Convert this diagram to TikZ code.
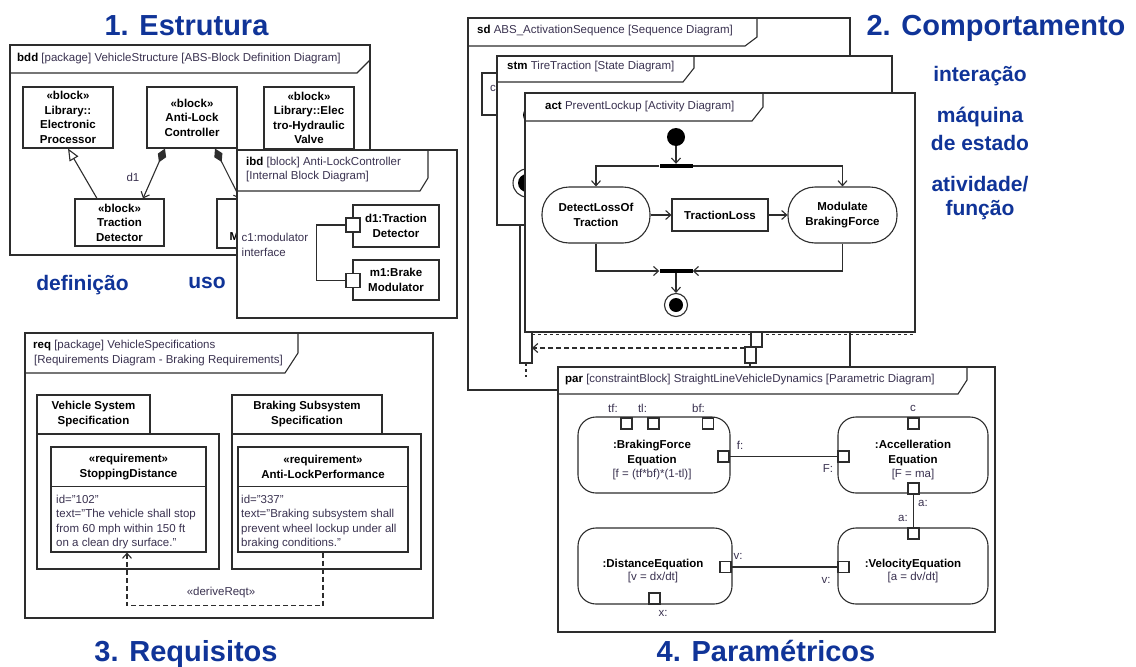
\documentclass[tikz,border=0pt]{standalone}
\usepackage{fontspec}
\setmainfont{Liberation Sans}
\usetikzlibrary{arrows.meta,calc}
\definecolor{ttl}{RGB}{16,52,152}
\definecolor{ink}{RGB}{45,45,45}
\definecolor{hdr}{RGB}{58,50,80}
\newcommand\dfont{\fontsize{11.5}{14.5}\selectfont}
\newcommand\tfont{\fontsize{29}{32}\selectfont\bfseries}
\newcommand\sfont{\fontsize{21}{27}\selectfont\bfseries}
\begin{document}
\begin{tikzpicture}[x=1pt,y=-1pt,line join=miter,
  frm/.style={draw=ink,line width=1.1pt,fill=white},
  tabline/.style={draw=ink,line width=1.1pt},
  hdrtext/.style={anchor=west,inner sep=0,font=\dfont,text=hdr},
  blk/.style={draw=ink,line width=1.1pt,fill=white,align=center,font={\dfont\bfseries},inner sep=0},
  bold/.style={font={\dfont\bfseries},align=center,inner sep=0},
  port/.style={draw=ink,line width=1.1pt,fill=white,minimum size=11pt,inner sep=0},
  lbl/.style={font=\dfont,text=hdr,inner sep=0},
  conn/.style={draw=ink,line width=1.1pt},
  barb/.style={-{Straight Barb[length=5pt,width=9pt]}},
  compo/.style={{Diamond[length=15pt,width=9pt]}-{Straight Barb[length=5pt,width=9pt]}},
  cbox/.style={draw=ink,line width=1.1pt,fill=white,rounded corners=18pt,inner sep=0},
  actn/.style={draw=ink,line width=1.1pt,fill=white,rounded corners=27pt,align=center,font={\dfont\bfseries},inner sep=0},
  bar/.style={fill=black,inner sep=0,minimum width=33pt,minimum height=4pt},
  title/.style={font=\tfont,text=ttl,anchor=base,inner sep=0},
  subt/.style={font=\sfont,text=ttl,anchor=base,inner sep=0}]
\useasboundingbox (0,0) rectangle (1136,667);
\fill[white] (0,0) rectangle (1136,667);

% ---------- section titles ----------
\node[title] (t1) at (186.5,35) {1. Estrutura};
\node[title] (t2) at (996,35) {2. Comportamento};
\node[title] (t3) at (186,661.5) {3. Requisitos};
\node[title] (t4) at (766,661.5) {4. Paramétricos};
\node[subt] (s1) at (980,81.7) {interação};
\node[subt] (s2) at (980,122.7) {máquina};
\node[subt] (s3) at (980,150) {de estado};
\node[subt] (s4) at (980,191.7) {atividade/};
\node[subt] (s5) at (980,215) {função};
\node[subt] (s6) at (82.5,290) {definição};
\node[subt] (s7) at (207,288) {uso};

% ---------- bdd ----------
\path[frm] (10,45) rectangle (370,255);
\draw[tabline] (10,73) -- (357,73) -- (370,60);
\node[hdrtext] (bddh) at (17,59) {\textcolor{black}{\bfseries bdd} [package] VehicleStructure [ABS-Block Definition Diagram]};
\node[blk,minimum width=90pt,minimum height=61pt] (ep) at (68,117.5) {«block»\\Library::\\Electronic\\Processor};
\node[blk,minimum width=90pt,minimum height=61pt] (alc) at (192,117.5) {«block»\\Anti-Lock\\Controller};
\node[blk,minimum width=90pt,minimum height=62pt] (ehv) at (309,118) {«block»\\Library::Elec\\tro-Hydraulic\\Valve};
\node[blk,minimum width=89pt,minimum height=47pt] (td) at (119.5,222.5) {«block»\\Traction\\Detector};
\node[blk,minimum width=84pt,minimum height=49pt] (bm) at (259,223.5) {};
\node[bold,anchor=west] (bmt) at (229.5,237) {M};
\draw[conn,-{Triangle[open,length=12pt,width=10pt]}] ([xshift=-22.5pt]td.north) -- (ep.south);
\draw[conn,compo] ([xshift=-27pt]alc.south) -- ([xshift=23.5pt]td.north);
\draw[conn,compo] ([xshift=23pt]alc.south) -- ([xshift=-19pt]bm.north);
\node[lbl] (d1lbl) at (133,177) {d1};

% ---------- ibd ----------
\path[frm] (237,150) rectangle (457,318);
\draw[tabline] (237,191) -- (420,191) -- (428,178) -- (428,150);
\node[hdrtext] (ibdh1) at (246,163) {\textcolor{black}{\bfseries ibd} [block] Anti-LockController};
\node[hdrtext] (ibdh2) at (246,177) {[Internal Block Diagram]};
\node[lbl,align=left,anchor=west] (c1) at (241.5,245) {c1:modulator\\interface};
\node[blk,minimum width=86pt,minimum height=42pt] (d1) at (396,226) {d1:Traction\\Detector};
\node[blk,minimum width=86pt,minimum height=40pt] (m1) at (396,280) {m1:Brake\\Modulator};
\node[port,minimum size=14pt] (pd1) at (353,225) {};
\node[port,minimum size=14pt] (pm1) at (353,280.5) {};
\draw[conn] (pd1.west) -- ++(-29,0) |- (pm1.west);

% ---------- req ----------
\path[frm] (25,333) rectangle (433,618);
\draw[tabline] (25,373) -- (285,373) -- (298,353) -- (298,333);
\node[hdrtext] (reqh1) at (33,346) {\textcolor{black}{\bfseries req} [package] VehicleSpecifications};
\node[hdrtext] (reqh2) at (34,361) {[Requirements Diagram - Braking Requirements]};
\path[frm] (37,395) rectangle (150,434);
\path[frm] (37,434) rectangle (219,569);
\node[bold] (vss) at (93.5,414) {Vehicle System\\Specification};
\path[frm] (232,395) rectangle (382,434);
\path[frm] (232,434) rectangle (421,569);
\node[bold] (bss) at (307,414) {Braking Subsystem\\Specification};
\node[blk,minimum width=155pt,minimum height=105pt] (rsd) at (128.5,499.5) {};
\draw[conn] ([yshift=-40pt]rsd.north west) -- ([yshift=-40pt]rsd.north east);
\node[bold] (rsdt) at (128.5,467) {«requirement»\\StoppingDistance};
\node[lbl,align=left,anchor=north west] (rsdb) at (56,494.5) {id="102"\\text="The vehicle shall stop\\from 60 mph within 150 ft\\on a clean dry surface."};
\node[blk,minimum width=170pt,minimum height=105pt] (ralp) at (323,499.5) {};
\draw[conn] ([yshift=-40pt]ralp.north west) -- ([yshift=-40pt]ralp.north east);
\node[bold] (ralpt) at (323,467) {«requirement»\\Anti-LockPerformance};
\node[lbl,align=left,anchor=north west] (ralpb) at (241,494.5) {id="337"\\text="Braking subsystem shall\\prevent wheel lockup under all\\braking conditions."};
\draw[conn,dash pattern=on 5pt off 3pt,barb] (ralp.south) -- ++(0,53) -| ([xshift=-1.5pt]rsd.south);
\node[lbl] (drv) at (221,593) {«deriveReqt»};

% ---------- sd ----------
\path[frm] (468,18) rectangle (850,390);
\draw[tabline] (468,46) -- (745,46) -- (757,37) -- (757,18);
\node[hdrtext] (sdh) at (477,31) {\textcolor{black}{\bfseries sd} ABS\_ActivationSequence [Sequence Diagram]};
\path[frm] (482,73) rectangle (570,115);
\node[lbl,anchor=west] (ll1) at (490,88) {c};
\path[frm] (520,115) rectangle (532,363);
\draw[conn,dashed] (526,363) -- (526,377);

% ---------- stm ----------
\path[frm] (497,56) rectangle (892,225);
\draw[tabline] (497,82) -- (683,82) -- (694,68) -- (694,56);
\node[hdrtext] (stmh) at (507,67) {\textcolor{black}{\bfseries stm} TireTraction [State Diagram]};
\node[circle,draw=ink,line width=1.1pt,fill=white,minimum size=28pt,inner sep=0] (sfin) at (527,183) {};
\node[circle,fill=black,minimum size=18pt,inner sep=0] at (sfin.center) {};
\node[circle,fill=black,minimum size=16pt,inner sep=0] (sini) at (531,115) {};

% ---------- act ----------
\path[frm] (525,93) rectangle (915,332);
\draw[tabline] (525,121) -- (752,121) -- (763,107) -- (763,93);
\node[hdrtext] (acth) at (545,107) {\textcolor{black}{\bfseries act} PreventLockup [Activity Diagram]};
\node[circle,fill=black,minimum size=18pt,inner sep=0] (ini) at (676,137) {};
\node[bar] (fork) at (676,166) {};
\node[actn,minimum width=108pt,minimum height=56pt] (dlt) at (596,215) {DetectLossOf\\Traction};
\node[blk,minimum width=96pt,minimum height=32pt] (tl) at (720,215) {TractionLoss};
\node[actn,minimum width=109pt,minimum height=56pt] (mbf) at (842.5,215) {Modulate\\BrakingForce};
\node[bar] (join) at (676,271) {};
\node[circle,draw=ink,line width=1.1pt,fill=white,minimum size=23pt,inner sep=0] (fin) at (676,305) {};
\node[circle,fill=black,minimum size=14pt,inner sep=0] at (fin.center) {};
\draw[conn,barb] (ini) -- (fork);
\draw[conn,barb] (fork.west) -| (dlt.north);
\draw[conn,barb] (fork.east) -| (mbf.north);
\draw[conn,barb] (dlt) -- (tl);
\draw[conn,barb] (tl) -- (mbf);
\draw[conn,barb] (dlt.south) |- (join.west);
\draw[conn,barb] (mbf.south) |- (join.east);
\draw[conn,barb] (join) -- (fin);

% ---------- sd messages below the activity frame ----------
\draw[conn,dashed] (532,334.5) -- (915,334.5);
\path[frm] (751,332) rectangle (762,347);
\path[frm] (745,347) rectangle (756,363);
\coordinate (ll2) at (745,348);
\coordinate (ll1act) at (532,348);
\draw[conn,dash pattern=on 5pt off 3pt,barb] (ll2) -- (ll1act);
\draw[conn] (750,363) -- (750,367);

% ---------- par ----------
\path[frm] (558,367) rectangle (995,632);
\draw[tabline] (558,394) -- (958,394) -- (967,380) -- (967,367);
\node[hdrtext] (parh) at (565,380) {\textcolor{black}{\bfseries par} [constraintBlock] StraightLineVehicleDynamics [Parametric Diagram]};
\node[cbox,minimum width=152pt,minimum height=76pt] (bfe) at (654,455) {};
\node[cbox,minimum width=154pt,minimum height=76pt] (de) at (655,566) {};
\node[cbox,minimum width=150pt,minimum height=76pt] (ae) at (913,455) {};
\node[cbox,minimum width=150pt,minimum height=76pt] (ve) at (913,566) {};
\node[bold] (bfet) at (652,453) {:BrakingForce\\Equation};
\node[lbl] (bfef) at (652,475) {[f = (tf*bf)*(1-tl)]};
\node[bold] (det) at (653,565) {:DistanceEquation};
\node[lbl] (def) at (653,578) {[v = dx/dt]};
\node[bold] (aet) at (913,453) {:Accelleration\\Equation};
\node[lbl] (aef) at (913,475) {[F = ma]};
\node[bold] (vet) at (913,565) {:VelocityEquation};
\node[lbl] (vef) at (913,578) {[a = dv/dt]};
\node[port] (ptf) at (626.5,423.5) {};
\node[port] (ptl) at (653.5,423.5) {};
\node[port] (pbf) at (708,423.5) {};
\node[port] (pf) at (723.5,456.5) {};
\node[port] (pv1) at (725.5,567) {};
\node[port] (px) at (654.5,598.5) {};
\node[port] (pc) at (913.5,423.5) {};
\node[port] (pF) at (843.5,456.5) {};
\node[port] (pa1) at (913.5,488.5) {};
\node[port] (pa2) at (913.5,533.5) {};
\node[port] (pv2) at (843.5,567) {};
\draw[conn] (pf.east) -- (pF.west);
\draw[conn] (pv1.east) -- (pv2.west);
\draw[conn] (pa1.south) -- (pa2.north);
\node[lbl] (ltf) at (613,408) {tf:};
\node[lbl] (ltl) at (642.5,408) {tl:};
\node[lbl] (lbf) at (698.5,408) {bf:};
\node[lbl] (lf) at (740,445) {f:};
\node[lbl] (lF) at (828,469) {F:};
\node[lbl] (lc) at (913,408) {c};
\node[lbl] (la1) at (923,503) {a:};
\node[lbl] (la2) at (903,518) {a:};
\node[lbl] (lv1) at (738,556) {v:};
\node[lbl] (lv2) at (826,580) {v:};
\node[lbl] (lx) at (663,613) {x:};
\end{tikzpicture}
\end{document}
